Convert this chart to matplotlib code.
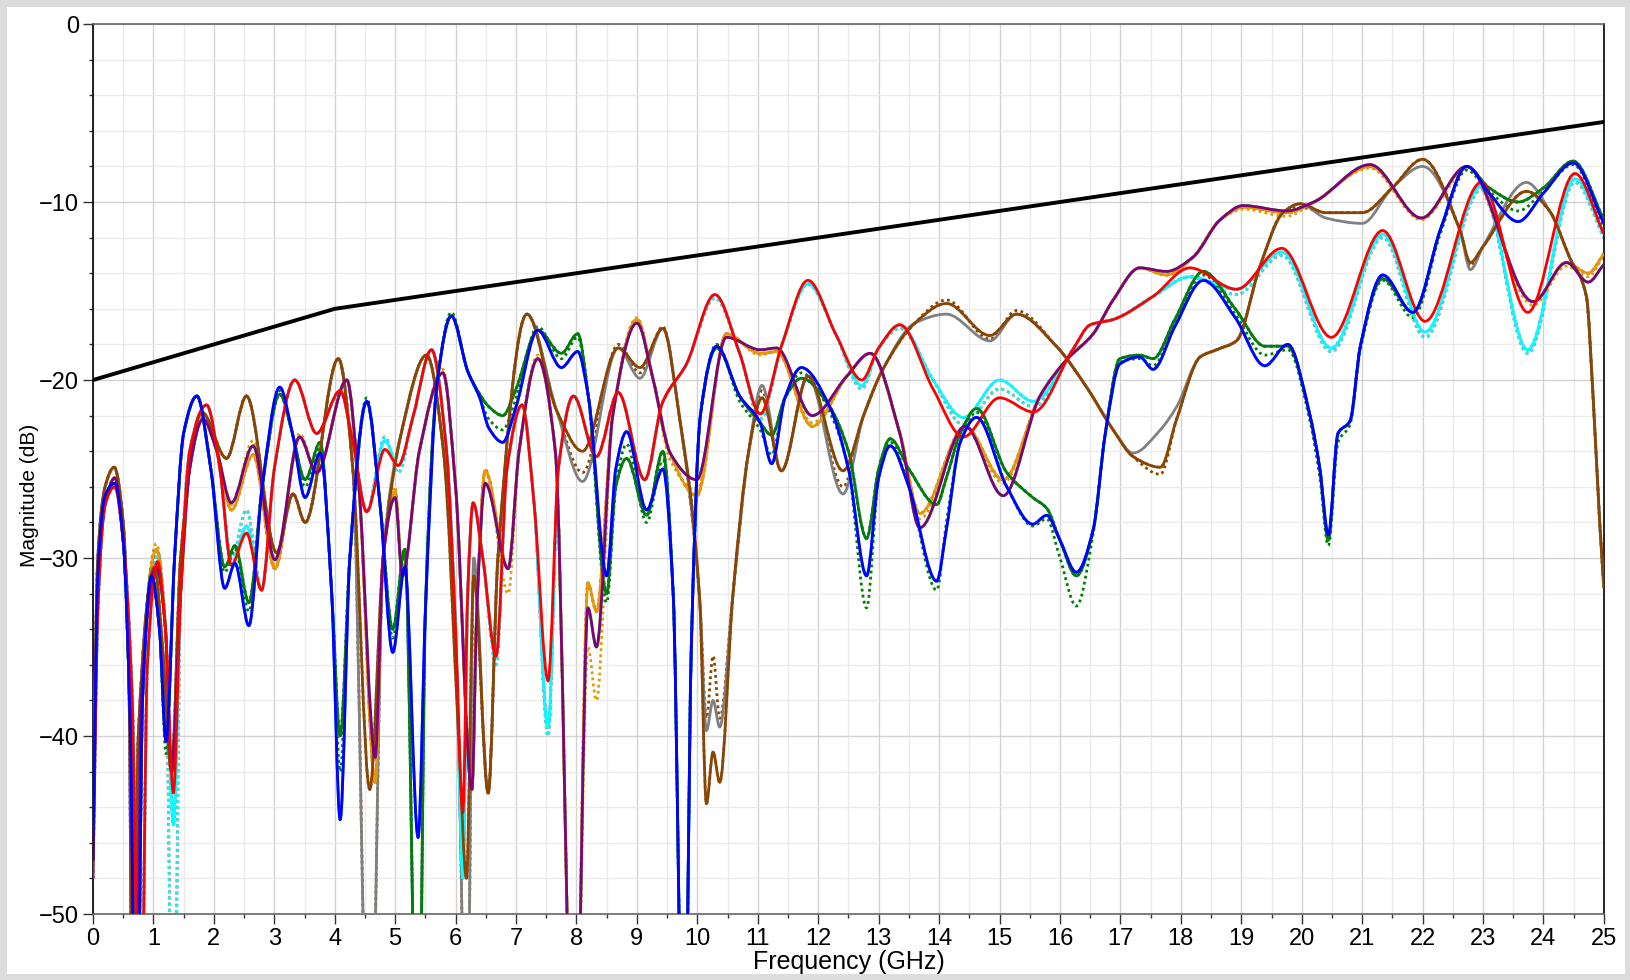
"""S-parameter magnitude overlay vs. frequency with limit line."""
import matplotlib
matplotlib.use("Agg")
import matplotlib.pyplot as plt
import numpy as np
from matplotlib.path import Path
from matplotlib.patches import PathPatch
from matplotlib.ticker import MultipleLocator

plt.rcParams["font.family"] = ["Liberation Sans", "DejaVu Sans"]

# limit mask
LIMIT_X = [0, 4, 25]
LIMIT_Y = [-20, -16, -5.5]

# family A: brown / gray
BROWN_X = [0.0, 0.08, 0.2, 0.35, 0.5, 0.6, 0.66, 0.75, 1.02, 1.15, 1.3, 1.45, 1.8, 2.21,
           2.54, 3.04, 3.31, 3.51, 4.06, 4.3, 4.58, 4.8, 5.1, 5.52, 5.8, 6.05, 6.18, 6.3,
           6.54, 6.7, 7.18, 7.67, 8.1, 8.69, 9.05, 9.43, 9.7, 10.04, 10.15, 10.26, 10.37,
           10.59, 10.85, 11.07, 11.39, 11.83, 12.41, 12.75, 13.07, 13.6, 14.12, 14.84,
           15.28, 15.94, 16.44, 16.88, 17.21, 17.66, 17.93, 18.32, 18.59, 18.92, 19.31,
           19.69, 19.97, 20.4, 21.0, 21.5, 22.0, 22.62, 22.79, 23.0, 23.72, 24.1, 24.43,
           24.71, 24.82, 24.93, 25.0]
BROWN_Y = [-44, -30, -26, -24.9, -28, -38, -62, -40, -30.5, -35, -42, -30, -21.8, -24.4,
           -20.9, -29.7, -26.4, -28, -18.8, -25, -43, -30, -23, -18.6, -24, -40, -48, -31,
           -43.2, -30, -16.3, -21.7, -24, -18.2, -19.3, -17.1, -22, -32.4, -43.8, -40.9, -42.6,
           -32, -24, -21, -25.1, -19.8, -25.1, -22, -19.4, -16.8, -15.7, -17.5,
           -16.3, -18.1, -20.4, -22.8, -24.3, -24.9, -22.2, -18.7, -18.3, -17.8, -13.6,
           -10.6, -10.1, -10.6, -10.6, -9.2, -7.6, -11.6, -13.4, -12.5, -9.4, -10.5, -13.1,
           -15.3, -20.9, -28, -31.7]
GRAY_Y = [-44, -30, -26, -24.9, -28, -38, -62, -40, -30.5, -35, -42, -30, -21.8, -24.4,
          -20.9, -29.7, -26.4, -28, -18.8, -25, -62, -30, -23, -18.6, -24, -40, -62, -30,
          -43.2, -30, -16.3, -21.7, -25.7, -18.2, -19.9, -17.1, -22, -32.4, -39.7, -38, -39.5,
          -32, -24, -20.3, -25.1, -19.8, -26.4, -22, -19.4, -16.8, -16.3, -17.8,
          -16.3, -18.1, -20.4, -22.8, -24.1, -22.8, -21.5, -18.7, -18.3, -17.8, -13.6,
          -10.6, -10.1, -10.9, -11.2, -9.2, -8.0, -11.6, -13.8, -12.5, -8.9, -10.5, -13.1,
          -15.3, -20.9, -28, -31.7]
BROWN_DOT_Y = [-44, -30, -26, -24.9, -28, -38, -62, -40, -30.5, -35, -42, -30, -21.8, -24.4,
               -20.9, -29.7, -26.4, -28, -18.8, -25, -62, -30, -23, -18.6, -24, -40, -62, -31,
               -43.2, -30, -16.3, -21.7, -25.2, -18.0, -19.6, -17.0, -22, -32.4, -39, -35.5, -39,
               -32, -24, -20.6, -25.1, -19.8, -26.0, -22, -19.4, -16.8, -15.5, -17.7,
               -16.1, -18.1, -20.4, -22.8, -24.3, -25.3, -22.2, -18.7, -18.3, -17.8, -13.6,
               -10.6, -10.3, -10.6, -10.6, -9.2, -7.6, -11.6, -13.6, -12.5, -9.4, -10.5, -13.1,
               -15.3, -20.9, -28, -31.7]

# family B: red / cyan
RED_X = [0.0, 0.08, 0.2, 0.36, 0.5, 0.65, 0.78, 0.9, 1.07, 1.2, 1.33, 1.45, 1.6, 1.88, 2.1,
         2.29, 2.54, 2.79, 3.0, 3.34, 3.7, 4.09, 4.3, 4.53, 4.83, 5.05, 5.3, 5.6, 5.85, 6.0,
         6.12, 6.2, 6.29, 6.45, 6.67, 6.85, 7.1, 7.3, 7.53, 7.7, 7.95, 8.33, 8.69, 9.13,
         9.42, 9.82, 10.29, 10.7, 11.04, 11.4, 11.83, 12.3, 12.72, 13.0, 13.35, 13.9, 14.4,
         15.0, 15.56, 16.21, 16.5, 16.88, 17.54, 18.15, 18.92, 19.67, 20.49, 21.34, 22.04,
         22.97, 23.74, 24.52, 25.0]
RED_Y = [-48, -33, -27, -26, -29, -38, -62, -36, -30.2, -34, -43.2, -32, -24, -21.4, -25,
         -30.4, -28.6, -31.8, -25, -20, -23, -20.6, -23.5, -27.4, -23.9, -24.8, -22, -18.3, -24, -34,
         -44.3, -32, -26.9, -30, -35.5, -25, -21.4, -27, -36.9, -25, -20.9, -24.3, -20.7, -25.6,
         -21.3, -19.1, -15.2, -18.5, -21.9, -18, -14.4, -17.5, -20, -18.2, -16.9, -20.5, -23.2,
         -21.0, -21.8, -18.3, -16.9, -16.6, -15.3, -13.7, -14.9, -12.6, -17.6, -11.6, -16.7,
         -8.9, -16.2, -8.4, -11.8]
CYAN_Y = [-48, -33, -27, -26, -29, -38, -62, -36, -30.2, -34, -45, -32, -24, -21.4, -25,
          -30.4, -28.2, -31.8, -25, -20, -23, -20.6, -23.5, -27.4, -23.4, -24.8, -22, -18.3, -24, -34,
          -48, -32, -26.9, -30, -35.5, -25, -21.4, -27, -39.5, -25, -20.9, -24.3, -20.7, -25.6,
          -21.3, -19.1, -15.2, -18.5, -21.9, -18, -14.6, -17.5, -20.3, -18.2, -16.9, -20.0, -22.1,
          -20.0, -21.2, -18.3, -16.9, -16.6, -15.3, -14.2, -14.9, -12.8, -18.2, -11.8, -17.3,
          -9.1, -18.3, -8.7, -11.8]
CYAN_DOT_Y = [-48, -33, -27, -26, -29, -38, -62, -36, -29.6, -34, -62, -32, -24, -21.4, -25,
              -30.0, -27.3, -31.8, -25, -20, -23, -20.6, -23.5, -27.4, -23.2, -25.2, -22, -18.3, -24, -34,
              -48, -32, -26.9, -30, -36, -25, -21.4, -27, -40, -25, -20.9, -24.3, -20.7, -25.6,
              -21.3, -19.1, -15.4, -18.5, -22.2, -18, -14.6, -17.5, -20.5, -18.2, -17.1, -20.0, -22.5,
              -20.5, -21.5, -18.3, -16.9, -16.6, -15.3, -14.2, -15.2, -13.0, -18.4, -12.0, -17.6,
              -9.3, -18.5, -8.9, -12.0]

# family C: purple / orange
PURPLE_X = [0.0, 0.08, 0.2, 0.36, 0.5, 0.62, 0.7, 0.8, 1.05, 1.2, 1.3, 1.45, 1.6, 1.82, 2.05,
            2.29, 2.65, 3.01, 3.42, 3.7, 4.2, 4.4, 4.67, 4.8, 5.0, 5.12, 5.4, 5.79, 6.0, 6.27,
            6.35, 6.49, 6.87, 7.05, 7.36, 7.65, 7.97, 8.19, 8.33, 8.6, 9.0, 9.27, 9.55, 9.99,
            10.48, 11.04, 11.31, 11.9, 12.47, 12.86, 13.35, 13.68, 14.43, 15.06, 15.67, 16.1,
            16.55, 16.88, 17.32, 17.76, 18.2, 18.65, 19.03, 19.75, 20.2, 21.13, 21.98, 22.73,
            23.83, 24.38, 24.74, 25.0]
PURPLE_Y = [-46, -32, -27, -25.5, -29, -38, -62, -38, -30.5, -34, -42, -32, -25, -22.2, -24,
            -26.9, -23.7, -30.1, -23.2, -25.2, -20, -26, -41.2, -30, -26.6, -31, -24, -19.6, -26, -43,
            -33, -25.8, -30.6, -24, -18.8, -24, -62, -32.8, -35, -22, -16.8, -20, -24.1, -25.6,
            -17.6, -18.3, -18.2, -22, -19.8, -18.5, -23, -28.3, -22.6, -26.5, -20.9, -18.9,
            -17.4, -15.5, -13.7, -13.9, -13.1, -11.0, -10.2, -10.5, -10.0, -7.9, -10.9, -8.0,
            -15.6, -13.4, -14.5, -13.5]
ORANGE_Y = [-46, -32, -27, -25.5, -29, -38, -62, -38, -29.5, -34, -42, -32, -25, -22.2, -24,
            -27.3, -24.2, -30.6, -23.2, -25.2, -20, -26, -42.6, -30, -26.3, -31, -24, -19.6, -26, -43,
            -33, -25.1, -30.6, -24, -18.8, -24, -62, -31.4, -33, -22, -16.6, -20, -24.1, -26.5,
            -17.4, -18.5, -18.4, -22.6, -19.8, -18.5, -23, -27.5, -22.6, -25.6, -20.9, -18.9,
            -17.4, -15.5, -13.7, -14.1, -13.1, -11.0, -10.3, -10.6, -10.0, -8.0, -10.9, -8.0,
            -15.6, -13.4, -14.0, -12.9]
ORANGE_DOT_Y = [-46, -32, -27, -25.5, -29, -38, -62, -38, -29.2, -34, -42, -32, -25, -22.0, -24,
                -27.0, -23.4, -30.4, -23.0, -25.2, -20, -26, -42.6, -30, -26.0, -31, -24, -19.4, -26, -43,
                -33, -25.0, -32, -24, -18.6, -24, -62, -35, -38, -22, -16.5, -20, -24.5, -26.2,
                -17.4, -18.6, -18.4, -22.4, -19.8, -18.5, -23, -27.8, -22.8, -25.8, -20.9, -18.9,
                -17.4, -15.5, -13.7, -14.1, -13.1, -11.0, -10.4, -10.8, -10.0, -8.1, -11.0, -8.2,
                -15.8, -13.6, -14.2, -13.0]

# family D: blue / green
BLUE_X = [0.0, 0.08, 0.2, 0.36, 0.5, 0.62, 0.72, 0.82, 0.97, 1.1, 1.21, 1.35, 1.5, 1.72, 1.95,
          2.18, 2.35, 2.58, 2.8, 3.09, 3.3, 3.51, 3.76, 3.95, 4.09, 4.25, 4.53, 4.75, 4.96, 5.16,
          5.38, 5.5, 5.7, 5.93, 6.2, 6.4, 6.55, 6.78, 7.0, 7.36, 7.75, 8.02, 8.2, 8.5, 8.65,
          8.83, 9.16, 9.43, 9.6, 9.78, 9.9, 10.05, 10.32, 10.7, 11.04, 11.23, 11.45, 11.72,
          12.19, 12.5, 12.8, 13.0, 13.19, 13.5, 13.96, 14.12, 14.35, 14.62, 15.12, 15.55,
          15.78, 16.0, 16.27, 16.55, 16.75, 16.99, 17.32, 17.54, 17.9, 18.37, 18.9, 19.39,
          19.77, 20.13, 20.3, 20.44, 20.6, 20.8, 20.97, 21.34, 21.84, 22.3, 22.73, 23.1, 23.58,
          24.0, 24.49, 25.0]
BLUE_Y = [-47, -31, -26.5, -25.8, -29, -40, -62, -38, -31, -34, -40.3, -30, -23, -20.9, -25,
          -31.7, -30.3, -33.8, -26, -20.4, -23, -26.6, -24.1, -32, -44.7, -30, -21.2, -27, -35.3, -30.5,
          -45.7, -33, -20, -16.4, -19.5, -21, -22.7, -23.5, -21.5, -17.2, -19.3, -18.4, -21, -31, -25,
          -22.9, -27.3, -25, -32, -62, -35, -22, -18.1, -20.9, -22.4, -24.7, -21, -19.3,
          -21.5, -25, -31, -25.5, -23.7, -26, -31.3, -28.4, -23.5, -22.1, -26, -28.1,
          -27.6, -29, -30.8, -28.4, -23, -19.1, -18.7, -19.4, -17, -14.4, -16.5, -19.2,
          -18.0, -21.9, -25, -28.7, -23, -22.3, -18.1, -14.1, -16.2, -11.5, -8.0, -9.5, -11.1,
          -9.5, -7.8, -11.2]
GREEN_Y = [-47, -31, -26.5, -25.8, -29, -40, -62, -38, -31, -34, -40.3, -30, -23, -20.9, -25,
           -30.5, -29.3, -32.5, -26, -20.8, -23, -25.6, -23.5, -32, -40, -30, -21.2, -27, -34, -29.5,
           -62, -33, -20, -16.4, -19.5, -20.8, -21.5, -22, -20.5, -17.2, -18.5, -17.4, -21, -32, -26,
           -24.4, -27.6, -24, -32, -62, -35, -22, -18.2, -20.9, -22.4, -23.1, -21, -19.9,
           -21.5, -24, -28.9, -25, -23.3, -25, -27, -25.5, -23, -21.6, -25.2, -26.6,
           -27.2, -29, -31, -28.4, -23, -18.8, -18.6, -18.8, -16.6, -13.9, -16, -18.1,
           -18.1, -21.9, -25, -29, -23, -22.3, -18.1, -14.3, -16.2, -11.5, -8.0, -9.2, -10.0,
           -9.2, -7.7, -11.0]
GREEN_DOT_Y = [-47, -31, -26.5, -25.8, -29, -40, -62, -38, -30.6, -34, -41, -30, -23, -20.9, -25,
               -30.8, -29.5, -33, -26, -20.6, -23, -26, -23.8, -32, -42, -30, -21.0, -27, -34.5, -29.8,
               -62, -33, -20, -16.2, -19.5, -21, -22.2, -22.8, -21, -17.0, -18.8, -17.6, -21, -32.5, -26,
               -23.6, -28, -24.5, -32, -62, -35, -22, -18.0, -21.2, -22.8, -24.2, -21, -19.6,
               -21.8, -25, -32.8, -25.5, -23.5, -26, -31.8, -28, -23.5, -21.8, -26, -28.2,
               -27.8, -30, -32.7, -28.6, -23, -19.0, -18.8, -19.2, -16.8, -14.1, -16.3, -18.6,
               -18.3, -22.2, -25.5, -29.3, -23.5, -22.5, -18.3, -14.4, -16.5, -11.7, -8.2, -9.4, -10.5,
               -9.4, -7.9, -11.4]


def smooth_path(xs, ys):
    # monotone cubic (pchip-style tangents) turned into Bezier segments
    x = np.asarray(xs, float)
    y = np.asarray(ys, float)
    h = np.diff(x)
    d = np.diff(y) / h
    m = np.zeros_like(y)
    m[0], m[-1] = d[0], d[-1]
    for k in range(1, len(x) - 1):
        if d[k - 1] * d[k] > 0:
            w1 = 2 * h[k] + h[k - 1]
            w2 = h[k] + 2 * h[k - 1]
            m[k] = (w1 + w2) / (w1 / d[k - 1] + w2 / d[k])
    verts = [(x[0], y[0])]
    codes = [Path.MOVETO]
    for k in range(len(h)):
        verts += [(x[k] + h[k] / 3, y[k] + m[k] * h[k] / 3),
                  (x[k + 1] - h[k] / 3, y[k + 1] - m[k + 1] * h[k] / 3),
                  (x[k + 1], y[k + 1])]
        codes += [Path.CURVE4] * 3
    return Path(verts, codes)


def trace(ax, xs, ys, color, ls="-", lw=2.0, z=3):
    ax.add_patch(PathPatch(smooth_path(xs, ys), fill=False, edgecolor=color,
                           linewidth=lw, linestyle=ls, zorder=z,
                           capstyle="butt", joinstyle="round"))


fig = plt.figure(figsize=(16.31, 9.8), dpi=100)
fig.patch.set_facecolor("white")
fig.patch.set_edgecolor("#dcdcdc")
fig.patch.set_linewidth(9)
ax = fig.add_axes([0.0570, 0.0673, 0.9264, 0.9082])

# dotted companions first, solids on top
dots = (0, (1, 1.2))
trace(ax, BROWN_X, BROWN_Y, "#808080", dots, z=2)
trace(ax, BROWN_X, BROWN_DOT_Y, "#8b4500", dots, z=2)
trace(ax, RED_X, CYAN_DOT_Y, "#ff0000", dots, z=2)
trace(ax, RED_X, CYAN_DOT_Y, "#00ffff", dots, z=2)
trace(ax, RED_X, CYAN_Y, "#ff00ff", dots, z=2)
trace(ax, PURPLE_X, ORANGE_DOT_Y, "#e69a00", dots, z=2)
trace(ax, PURPLE_X, ORANGE_Y, "#800080", dots, z=2)
trace(ax, BLUE_X, GREEN_Y, "#0000ff", dots, z=2)
trace(ax, BLUE_X, GREEN_DOT_Y, "#008000", dots, z=2)

trace(ax, PURPLE_X, PURPLE_Y, "#00ff00", z=3)
trace(ax, BLUE_X, BLUE_Y, "#1e90ff", z=3)
trace(ax, BROWN_X, GRAY_Y, "#808080", z=4)
trace(ax, RED_X, CYAN_Y, "#00ffff", z=4)
trace(ax, PURPLE_X, ORANGE_Y, "#e69a00", z=4)
trace(ax, BLUE_X, GREEN_Y, "#008000", z=4)
trace(ax, BROWN_X, BROWN_Y, "#8b4500", z=5)
trace(ax, PURPLE_X, PURPLE_Y, "#800080", z=5)
trace(ax, RED_X, RED_Y, "#ff0000", z=6)
trace(ax, BLUE_X, BLUE_Y, "#0000ff", z=7)

ax.plot(LIMIT_X, LIMIT_Y, color="black", linewidth=2.8, zorder=8)

ax.set_xlim(0, 25)
ax.set_ylim(-50, 0)
ax.xaxis.set_major_locator(MultipleLocator(1))
ax.xaxis.set_minor_locator(MultipleLocator(0.5))
ax.yaxis.set_major_locator(MultipleLocator(10))
ax.yaxis.set_minor_locator(MultipleLocator(2))
ax.grid(which="major", color="#d2d2d2", linewidth=1.0, zorder=0)
ax.grid(which="minor", color="#ebebeb", linewidth=1.0, zorder=0)
ax.set_axisbelow(True)
ax.tick_params(which="major", direction="out", length=7, width=1, labelsize=17,
               pad=3, colors="#333333", labelcolor="black")
ax.tick_params(which="minor", direction="out", length=3, width=1, colors="#333333")

for side in ("top", "bottom"):
    ax.spines[side].set_color("#666666")
for side in ("left", "right"):
    ax.spines[side].set_color("black")
for s in ax.spines.values():
    s.set_linewidth(1.2)

ax.set_xlabel("Frequency (GHz)", fontsize=18, labelpad=0)
ax.set_ylabel("Magnitude (dB)", fontsize=15)
ax.yaxis.set_label_coords(-0.036, 0.47)

fig.savefig("out.png", dpi=100)
